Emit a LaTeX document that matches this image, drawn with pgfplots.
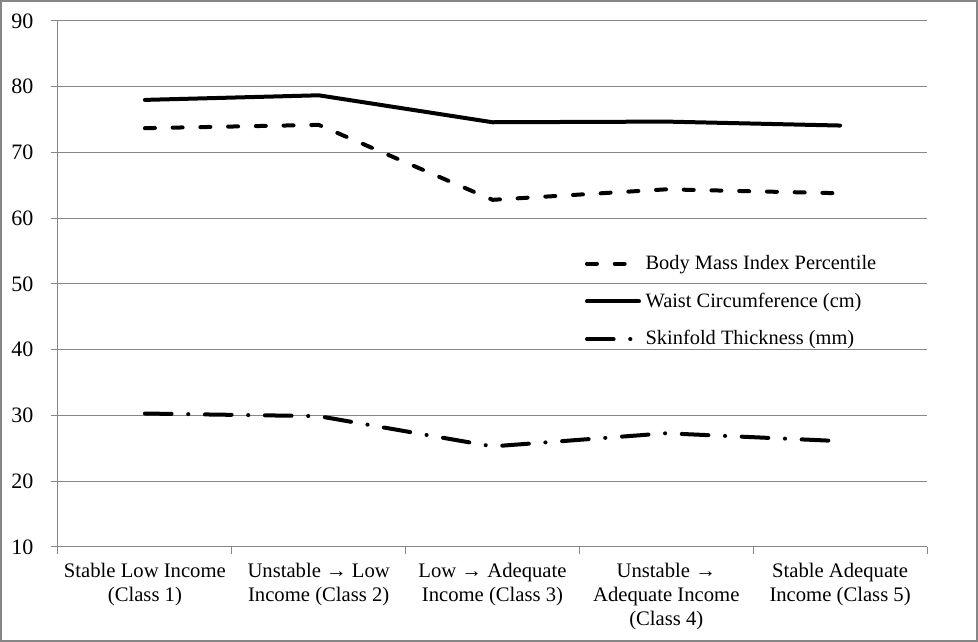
\documentclass[border=0pt]{standalone}
\usepackage{fontspec}
\setmainfont{Liberation Serif}
\usepackage{pgfplots}
\pgfplotsset{compat=1.18}
\definecolor{gridgray}{HTML}{868686}
\begin{document}
\fontsize{15}{18}\selectfont
\begin{tikzpicture}
\begin{axis}[
  scale only axis, width=651.75pt, height=394.5pt,
  xmin=0.5, xmax=5.5, ymin=10, ymax=90,
  ytick={10,20,...,90},
  xtick={0.5,1.5,...,5.5},
  xticklabels={},
  extra x ticks={1,2,3,4,5},
  extra x tick labels={Stable Low Income\\(Class 1),Unstable → Low\\Income (Class 2),Low → Adequate\\Income (Class 3),Unstable →\\Adequate Income\\(Class 4),Stable Adequate\\Income (Class 5)},
  extra x tick style={major tick length=0pt, xmajorgrids=false},
  axis x line=bottom, axis y line=left,
  axis line style={gridgray, line width=0.75pt, -},
  ymajorgrids, grid style={gridgray, line width=0.75pt},
  tick align=outside,
  major tick length=5.25pt,
  tick style={gridgray, line width=0.75pt},
  /pgf/number format/assume math mode=true,
  yticklabel style={font=\fontsize{16.5}{19}\selectfont, xshift=-8pt},
  xticklabel style={align=center, font=\fontsize{15.5}{18}\selectfont, yshift=-7pt},
  legend style={draw=none, fill=none, at={(0.6015,0.5655)}, anchor=north west, row sep=11.3pt, font=\fontsize{15.3}{18}\selectfont},
  legend cell align=left,
  legend image code/.code={\draw[#1] (0pt,0pt) -- (39pt,0pt); \path (40.5pt,0pt);},
]
\addplot[black, line width=3pt, line cap=round, line join=round, dash pattern=on 7.5pt off 13.3pt] coordinates {(1,73.7) (2,74.2) (3,62.8) (4,64.4) (5,63.8)};
\addlegendentry{Body Mass Index Percentile}
\addplot[black, line width=3pt, line cap=round, line join=round] coordinates {(1,78.0) (2,78.7) (3,74.6) (4,74.7) (5,74.1)};
\addlegendentry{Waist Circumference (cm)}
\addplot[black, line width=3pt, line cap=round, line join=round, dash pattern=on 20pt off 12.45pt on 0.1pt off 12.45pt] coordinates {(1,30.3) (2,29.9) (3,25.3) (4,27.3) (5,26.1)};
\addlegendentry{Skinfold Thickness (mm)}
\end{axis}
\draw[gridgray, line width=1.5pt] (-42.75pt,-70.5pt) rectangle (689.25pt,409.5pt);
\pgfresetboundingbox
\path (-43.5pt,-71.25pt) rectangle (690pt,410.25pt);
\end{tikzpicture}
\end{document}
